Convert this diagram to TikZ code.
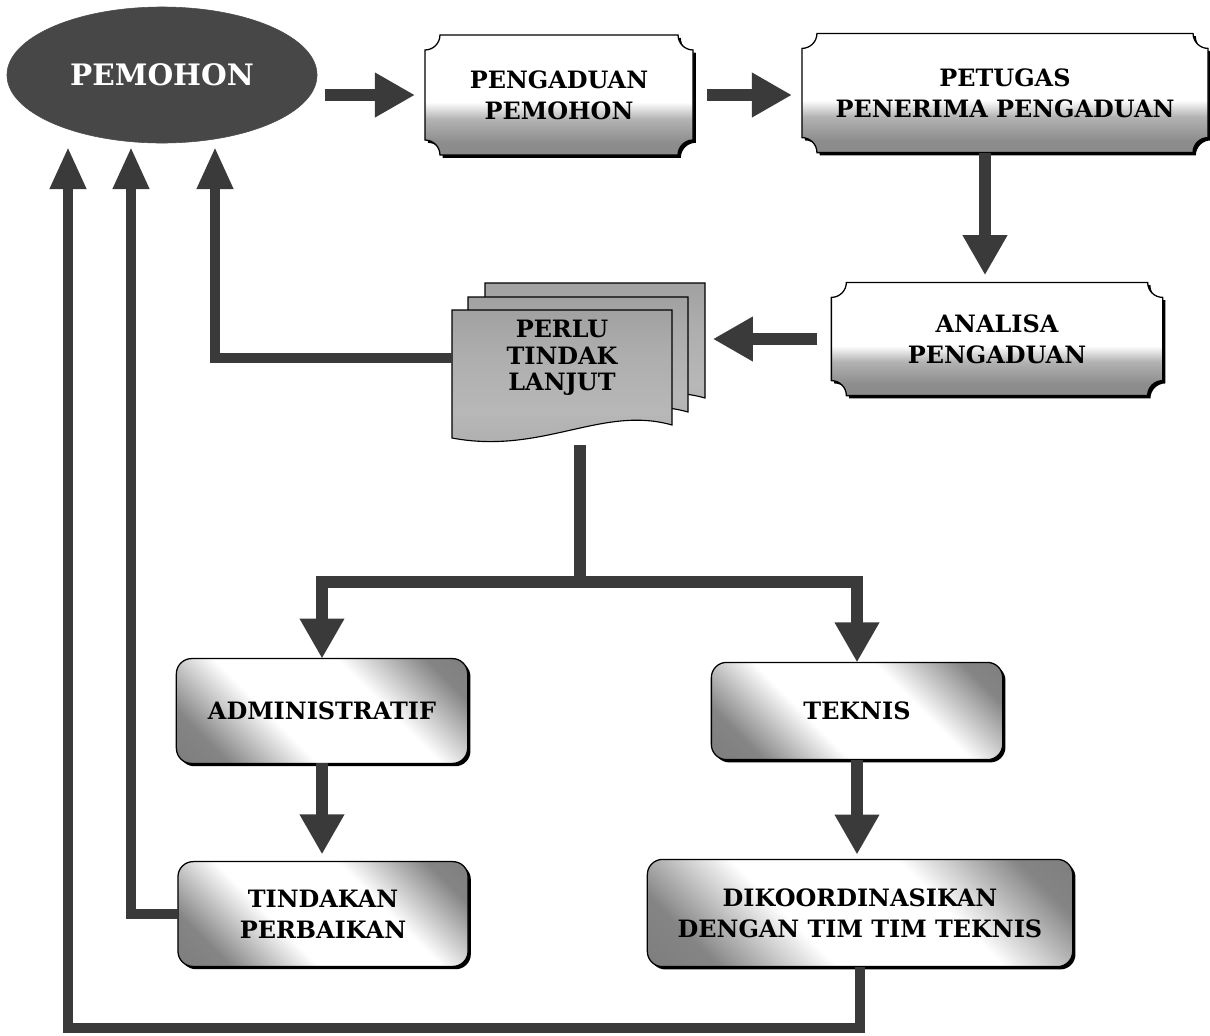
\documentclass[tikz,border=0pt]{standalone}
\usepackage{fontspec}
\setmainfont{DejaVu Serif}
\usetikzlibrary{arrows.meta,positioning,calc,shapes.geometric,shadows,backgrounds}
\definecolor{arrowgray}{HTML}{3A3A3A}
\definecolor{pemgray}{HTML}{474747}
\pgfdeclareverticalshading{tagshade}{100bp}{color(0bp)=(black!50); color(30bp)=(black!45); color(40bp)=(black!30); color(47bp)=(white); color(100bp)=(white)}
\pgfdeclarehorizontalshading{boxshade}{100bp}{color(0bp)=(black!55); color(24bp)=(black!48); color(40bp)=(white); color(62bp)=(white); color(78bp)=(black!48); color(100bp)=(black!55)}
\pgfdeclareverticalshading{docshade}{100bp}{color(0bp)=(black!40); color(40bp)=(black!28); color(60bp)=(black!32); color(100bp)=(black!45)}
% shape of the top boxes (inward corners)
\newcommand{\tagpath}[1]{($(#1.north west)+(15,0)$) -- ($(#1.north east)+(-15,0)$) arc[start angle=180,end angle=270,radius=15] -- ($(#1.south east)+(0,15)$) arc[start angle=90,end angle=180,radius=15] -- ($(#1.south west)+(15,0)$) arc[start angle=0,end angle=90,radius=15] -- ($(#1.north west)+(0,-15)$) arc[start angle=270,end angle=360,radius=15] -- cycle}
% one sheet of the document stack
\newcommand{\docpath}{(0,0) -- (220,0) -- (220,-115) .. controls (150,-95) and (90,-145) .. (0,-128) -- cycle}

\begin{document}
\begin{tikzpicture}[x=0.025cm,y=0.025cm,
  font=\bfseries\fontsize{17}{22}\selectfont,
  pemo/.style={ellipse,fill=pemgray,draw=black!70,minimum width=7.75cm,minimum height=3.4cm,inner sep=0pt,text=white,font=\bfseries\fontsize{21}{22}\selectfont},
  tag/.style={align=center,inner sep=0pt,outer sep=0pt},
  tagline/.style={draw=black,line width=0.9pt,shading=tagshade,drop shadow={shadow xshift=2pt,shadow yshift=-2pt,fill=black,opacity=1}},
  docline/.style={draw=black,line width=0.8pt,shading=docshade},
  rbox/.style={draw=black,line width=0.9pt,rounded corners=0.38cm,shading=boxshade,shading angle=45,drop shadow={shadow xshift=2pt,shadow yshift=-2pt,fill=black,opacity=1},align=center,inner sep=0pt,outer sep=0pt},
  bigarrow/.style={draw=arrowgray,line width=0.32cm,-{Triangle[width=1.05cm,length=1cm]}},
  backline/.style={draw=arrowgray,line width=0.25cm,-{Triangle[width=0.85cm,length=1.05cm]}},
  trunk/.style={draw=arrowgray,line width=0.32cm}]
  \useasboundingbox (0,0) rectangle (1210,-1035);

  \node[pemo] (pem) at (162,-75) {PEMOHON};
  \node[tag,minimum width=6.7cm,minimum height=3cm] (pp) at (559,-95) {PENGADUAN\\PEMOHON};
  \node[tag,minimum width=10.15cm,minimum height=2.98cm] (pt) at (1005,-93) {PETUGAS\\PENERIMA PENGADUAN};
  \node[tag,minimum width=8.28cm,minimum height=2.83cm] (an) at (997,-339) {ANALISA\\PENGADUAN};
  \node[tag,minimum width=5.5cm,font=\bfseries\fontsize{17}{19}\selectfont] (plt) at (562,-358) {PERLU\\TINDAK\\LANJUT};
  \node[rbox,minimum width=7.28cm,minimum height=2.62cm] (adm) at (322,-711) {ADMINISTRATIF};
  \node[rbox,minimum width=7.25cm,minimum height=2.62cm] (tin) at (323,-914) {TINDAKAN\\PERBAIKAN};
  \node[rbox,minimum width=7.28cm,minimum height=2.43cm] (tek) at (857,-711) {TEKNIS};
  \node[rbox,minimum width=10.63cm,minimum height=2.68cm] (dik) at (860,-913) {DIKOORDINASIKAN\\DENGAN TIM TIM TEKNIS};

  \begin{scope}[on background layer]
    \foreach \n in {pp,pt,an}
      \draw[tagline] \tagpath{\n};
    \foreach \s in {{485,-283},{468,-297},{452,-310}}
      \draw[docline,shift={(\s)}] \docpath;
  \end{scope}

  \coordinate (antop) at ($(an.north)+(-12,0)$);
  \coordinate (pltb) at (580,-445);
  \coordinate (split) at (580,-582);
  \coordinate (r1) at (68,-147);
  \coordinate (r2) at (131,-147);
  \coordinate (r3) at (215,-147);

  \draw[bigarrow,shorten <=0.18cm,shorten >=0.25cm] (pem.east |- pp.west) -- (pp.west);
  \draw[bigarrow,shorten <=0.35cm,shorten >=0.25cm] (pp.east) -- (pp.east -| pt.west);
  \draw[bigarrow,shorten >=0.18cm] (pt.south -| antop) -- (antop);
  \draw[bigarrow,shorten <=0.35cm,shorten >=1.02cm] (an.west) -- (an.west -| plt.east);
  \draw[backline] (plt.west) -| (r3);
  \draw[trunk] (pltb) -- (split);
  \draw[bigarrow] (split) -| (adm.north);
  \draw[bigarrow] (split) -| (tek.north);
  \draw[bigarrow,shorten >=0.18cm] (adm.south) -- (adm.south |- tin.north);
  \draw[bigarrow,shorten >=0.12cm] (tek.south) -- (tek.south |- dik.north);
  \draw[backline] (tin.west) -| (r2);
  \draw[backline] (dik.south) -- ++(0,-61) -| (r1);
\end{tikzpicture}
\end{document}
